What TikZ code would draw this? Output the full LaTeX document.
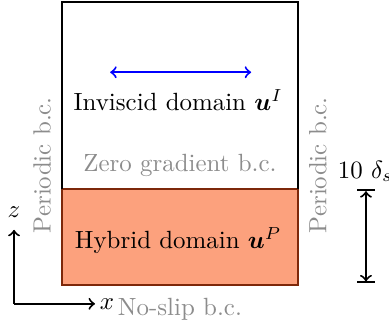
\documentclass[tikz,border=0pt]{standalone}
\usepackage{amsmath,bm}
\usetikzlibrary{calc}
\definecolor{hybridfill}{RGB}{252,161,125}
\definecolor{hybridline}{RGB}{125,40,10}
\tikzset{bcnote/.style={text=black!45}}

\begin{document}
\begin{tikzpicture}
		%%%%% START %%%%%
		\useasboundingbox (-0.875, -0.635) rectangle (4.615, 4.02);
		
		\draw[fill=hybridfill, draw=hybridline, thick] (0, 0) rectangle (3.33, 1.35);
		\draw[thick] (0, 1.35) -- (0, 3.99) -- (3.33, 3.99) -- (3.33, 1.35);
		
		\coordinate (flowL) at (0.68, 3.0);
		\coordinate (flowR) at (2.67, 3.0);
		\draw[<->, thick, blue] (flowL) -- (flowR);
		
		\node (inviscid) at (1.64, 2.61) {Inviscid domain $\bm{u}^I$};
		\node[bcnote] (zerograd) at (1.665, 1.68) {Zero gradient b.c.};
		\node (hybrid) at (1.64, 0.62) {Hybrid domain $\bm{u}^P$};
		\node[bcnote, rotate=90] (perleft) at (-0.28, 1.69) {Periodic b.c.};
		\node[bcnote, rotate=90] (perright) at (3.61, 1.69) {Periodic b.c.};
		\node[bcnote] (noslip) at (1.665, -0.35) {No-slip b.c.};
		
		\coordinate (dimtop) at (4.29, 1.35);
		\coordinate (dimbot) at (4.29, 0.02);
		\draw[|<->|, thick] (dimtop) -- (dimbot);
		\node (height) at (4.28, 1.6) {10 $\delta_s$};
		
		\coordinate (origin) at (-0.677, -0.268);
		\coordinate (zend) at (-0.677, 0.776);
		\coordinate (xend) at (0.466, -0.268);
		\draw[->, thick] (origin) -- (zend);
		\draw[->, thick] (origin) -- (xend);
		\node (zlabel) at (-0.677, 1.02) {$z$};
		\node (xlabel) at (0.635, -0.275) {$x$};
		
		%%%%% END %%%%%
	\end{tikzpicture}
\end{document}
